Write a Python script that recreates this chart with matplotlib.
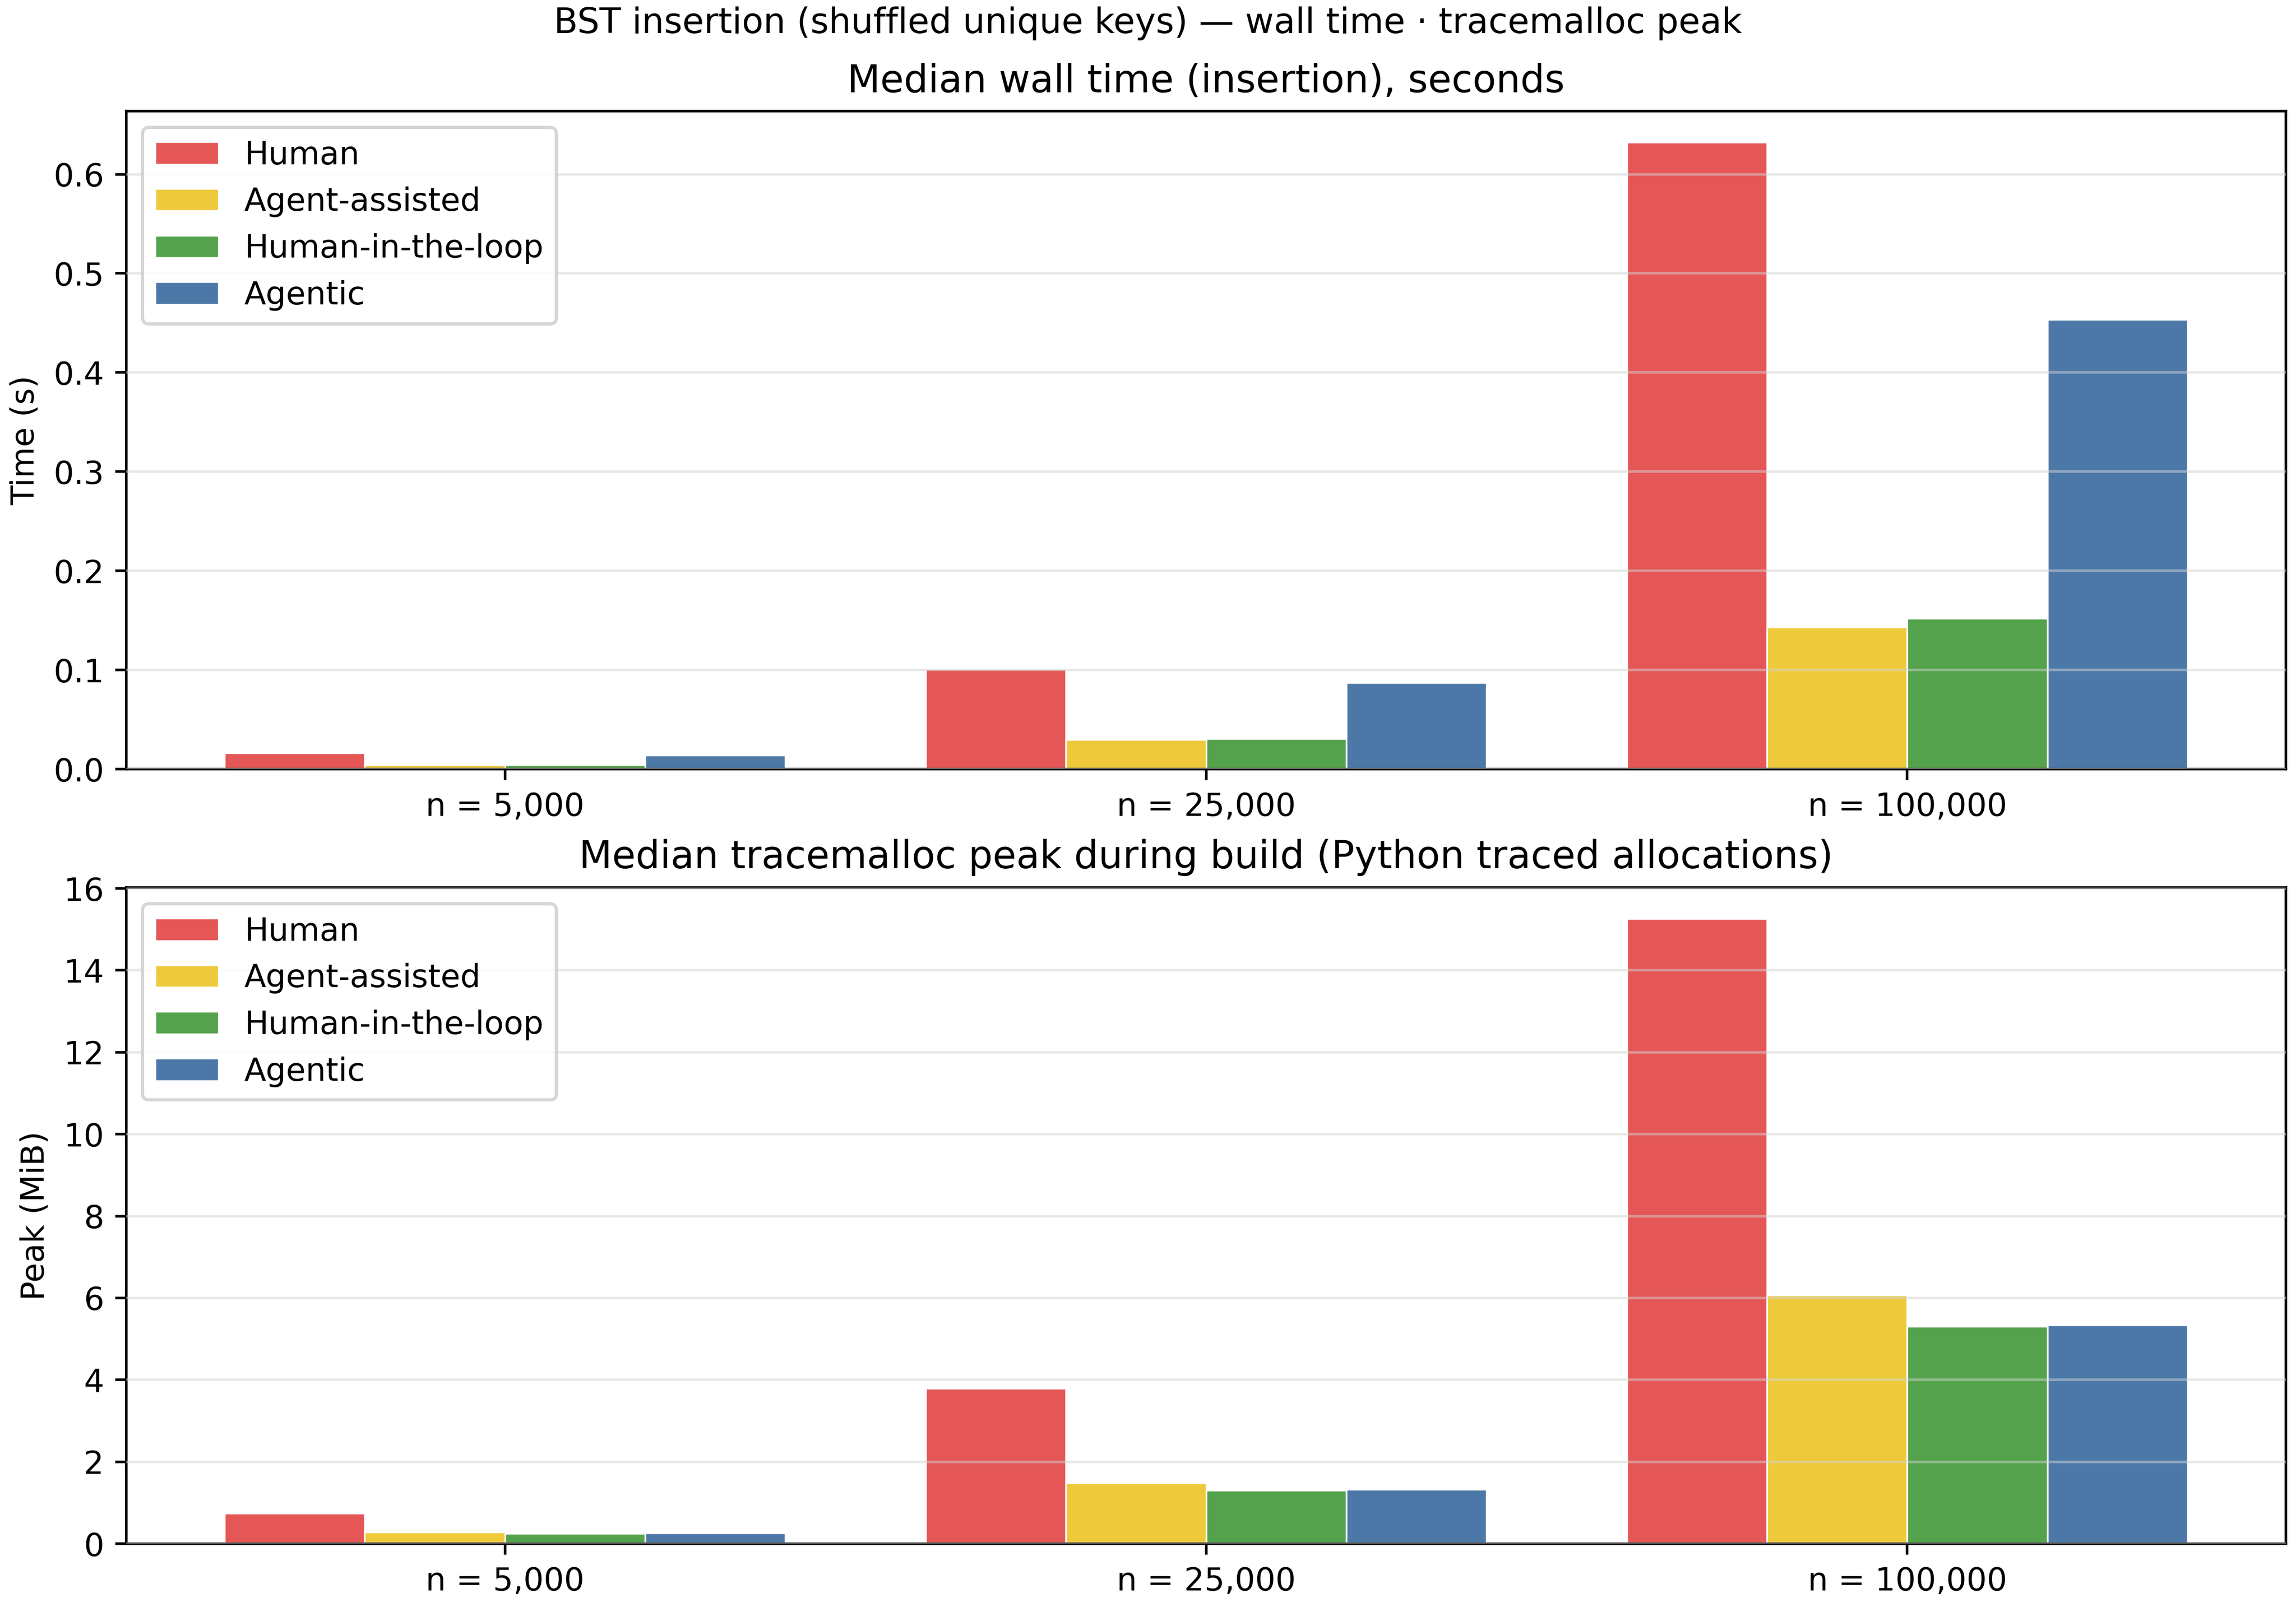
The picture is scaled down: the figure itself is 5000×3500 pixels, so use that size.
import numpy as np
import matplotlib
matplotlib.use('Agg')
import matplotlib.pyplot as plt

sizes = ['n = 5,000', 'n = 25,000', 'n = 100,000']
methods = ['Human', 'Agent-assisted', 'Human-in-the-loop', 'Agentic']
colors = ['#e45756', '#eeca3b', '#54a24b', '#4c78a8']

# median wall time, seconds
time_human = [0.0161, 0.1012, 0.632]
time_assisted = [0.0040, 0.0296, 0.1433]
time_hitl = [0.0040, 0.0305, 0.1519]
time_agentic = [0.0138, 0.0873, 0.4533]

# median tracemalloc peak, MiB
peak_human = [0.746, 3.79, 15.26]
peak_assisted = [0.287, 1.48, 6.07]
peak_hitl = [0.243, 1.30, 5.31]
peak_agentic = [0.254, 1.32, 5.335]

time_data = [time_human, time_assisted, time_hitl, time_agentic]
peak_data = [peak_human, peak_assisted, peak_hitl, peak_agentic]

fig = plt.figure(figsize=(10, 7), dpi=500)
ax1 = fig.add_axes([0.055, 0.5214, 0.9406, 0.4094])
ax2 = fig.add_axes([0.055, 0.0394, 0.9406, 0.4083])

x = np.arange(len(sizes))
w = 0.2


def draw(ax, data, title, ylabel):
    for i, (vals, m) in enumerate(zip(data, methods)):
        ax.bar(x + (i - 1.5) * w, vals, w, label=m, color=colors[i],
               edgecolor='white', linewidth=0.5, zorder=1)
    ax.set_xticks(x)
    ax.set_xticklabels(sizes)
    ax.set_title(title, fontsize=12)
    ax.set_ylabel(ylabel)
    ax.yaxis.grid(True, color='#d3d3d3', alpha=0.5, linewidth=0.8, zorder=2)
    ax.set_axisbelow(False)
    ax.legend(loc='upper left')


draw(ax1, time_data, 'Median wall time (insertion), seconds', 'Time (s)')
draw(ax2, peak_data, 'Median tracemalloc peak during build (Python traced allocations)', 'Peak (MiB)')

fig.suptitle('BST insertion (shuffled unique keys) \u2014 wall time \u00b7 tracemalloc peak',
             fontsize=11, y=0.996, va='top')

fig.savefig('out.png', dpi=500)
